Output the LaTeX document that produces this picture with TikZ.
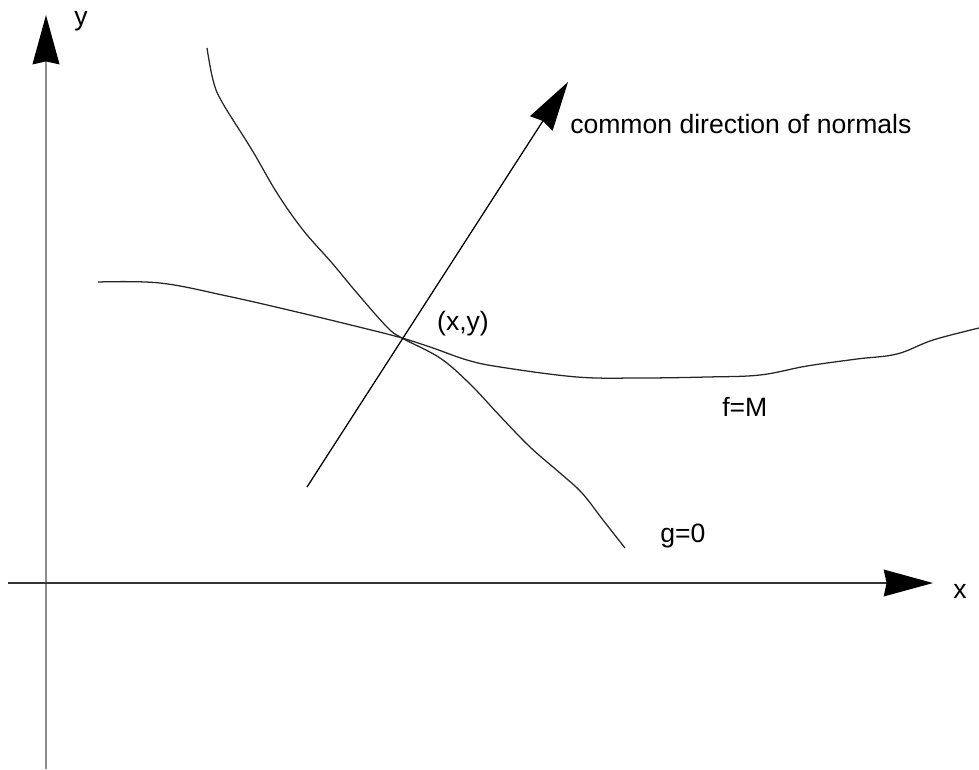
\documentclass[tikz,border=0pt]{standalone}
\usepackage{fontspec}
\setmainfont{Liberation Sans}
\usetikzlibrary{arrows.meta}

\tikzset{
  axisarrow/.style={-{Stealth[length=35pt, width=19pt, inset=2pt, black]}},
  curve/.style={black!85, line width=0.9pt, line join=round},
  lbl/.style={inner sep=0pt, font=\fontsize{18.9pt}{22pt}\selectfont}
}

\begin{document}
\begin{tikzpicture}[x=0.025cm, y=-0.025cm]
        \useasboundingbox (0, 0) rectangle (979, 769);

        % Axes
        \coordinate (yfoot) at (46, 769);
        \coordinate (ytip) at (46, 15);
        \coordinate (xfoot) at (8, 583);
        \coordinate (xtip) at (933, 583);
        \draw[axisarrow, black!45, line width=1.6pt] (yfoot) -- (ytip);
        \draw[axisarrow, black!80, line width=1.1pt] (xfoot) -- (xtip);
        \node[lbl] (ylabel) at (81, 21) {y};
        \node[lbl] (xlabel) at (960, 591) {x};

        % Constraint curve g=0
        \draw[curve] plot[smooth, tension=0.6] coordinates {(207, 48) (213, 80) (222, 102) (252, 150) (277, 193) (303, 230) (332, 263) (357, 293) (387, 327) (402, 338) (440, 358) (470, 384) (500, 416) (530, 447) (560, 473) (582, 493) (603, 520) (625, 548)};
        \node[lbl, anchor=base west] (glabel) at (660, 542) {g=0};

        % Level curve f=M
        \draw[curve] plot[smooth, tension=0.6] coordinates {(98, 282) (160, 283) (227, 296) (297, 312) (363, 328) (402, 338) (433, 348) (467, 360) (500, 367) (577, 377) (640, 378) (707, 377) (760, 375) (807, 366) (857, 359) (897, 354) (933, 340) (979, 328)};
        \node[lbl, anchor=base west] (flabel) at (722, 416) {f=M};

        % Normal direction through the touching point
        \coordinate (nfoot) at (307, 487);
        \coordinate (ntip) at (568, 82);
        \draw[axisarrow, line width=0.9pt] (nfoot) -- (ntip);
        \node[lbl] (plabel) at (463, 324) {(x,y)};
        \node[lbl, anchor=base west] (nlabel) at (570, 133) {common direction of normals};
    \end{tikzpicture}
\end{document}
